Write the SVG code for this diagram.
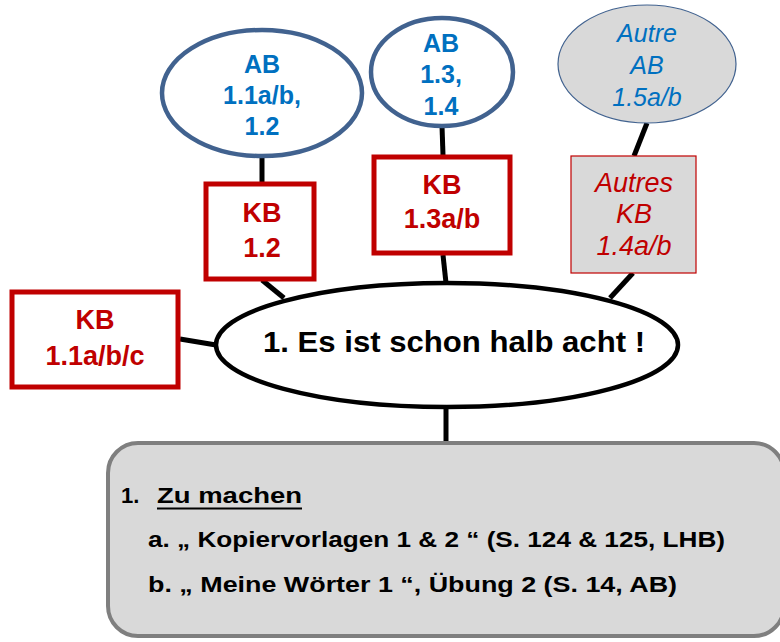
<svg xmlns="http://www.w3.org/2000/svg" width="780" height="642" viewBox="0 0 780 642">
<style>
text{font-family:"Liberation Sans",Arial,sans-serif;font-weight:bold;text-anchor:middle}
.ab{fill:#0070c0;font-size:25px}
.kb{fill:#c00000;font-size:27px}
.it{font-weight:normal;font-style:italic}
.abe{fill:#fff;stroke:#41628f;stroke-width:4.5}
.kbr{fill:#fff;stroke:#c00000;stroke-width:5}
.con{stroke:#000;stroke-width:5;fill:none}
.bt{fill:#000;font-size:22px;text-anchor:start}
</style>
<rect width="780" height="642" fill="#fff"/>
<g id="connectors">
<line class="con" x1="262" y1="156" x2="262" y2="183"/>
<line class="con" x1="442" y1="126" x2="443" y2="155"/>
<line class="con" x1="647" y1="123" x2="634" y2="156"/>
<line class="con" x1="262" y1="280" x2="284" y2="298"/>
<line class="con" x1="443" y1="255" x2="446" y2="283"/>
<line class="con" x1="633" y1="273" x2="610" y2="298"/>
<line class="con" x1="180" y1="339" x2="216" y2="345"/>
<line class="con" x1="446" y1="407" x2="446" y2="442"/>
</g>
<g id="ab1">
<ellipse class="abe" cx="262" cy="93" rx="100" ry="63"/>
<text class="ab" x="262" y="73">AB</text>
<text class="ab" x="262" y="104">1.1a/b,</text>
<text class="ab" x="262" y="135">1.2</text>
</g>
<g id="ab2">
<ellipse class="abe" cx="442" cy="72" rx="71" ry="54"/>
<text class="ab" x="441" y="52">AB</text>
<text class="ab" x="441" y="83">1.3,</text>
<text class="ab" x="441" y="115">1.4</text>
</g>
<g id="ab3">
<ellipse cx="647" cy="64" rx="89" ry="59" fill="#d9d9d9" stroke="#41628f" stroke-width="1.2"/>
<text class="ab it" x="647" y="42">Autre</text>
<text class="ab it" x="647" y="74">AB</text>
<text class="ab it" x="647" y="106">1.5a/b</text>
</g>
<g id="kb12">
<rect class="kbr" x="206" y="184" width="108" height="95"/>
<text class="kb" x="262" y="222">KB</text>
<text class="kb" x="262" y="257">1.2</text>
</g>
<g id="kb13">
<rect class="kbr" x="374" y="157" width="136" height="96"/>
<text class="kb" x="442" y="194">KB</text>
<text class="kb" x="442" y="228">1.3a/b</text>
</g>
<g id="kb14">
<rect x="571" y="156" width="125" height="117" fill="#d9d9d9" stroke="#c00000" stroke-width="1.2"/>
<text class="kb it" x="634" y="192">Autres</text>
<text class="kb it" x="634" y="223">KB</text>
<text class="kb it" x="634" y="255">1.4a/b</text>
</g>
<g id="kb11">
<rect class="kbr" x="12" y="292" width="166" height="95"/>
<text class="kb" x="95" y="329">KB</text>
<text class="kb" x="95" y="365">1.1a/b/c</text>
</g>
<g id="main">
<ellipse cx="447" cy="345" rx="231" ry="62" fill="#fff" stroke="#000" stroke-width="4.5"/>
<text x="454" y="352" font-size="30" fill="#000" textLength="382" lengthAdjust="spacingAndGlyphs">1. Es ist schon halb acht !</text>
</g>
<g id="todo">
<rect x="108" y="443" width="676" height="193" rx="30" ry="30" fill="#d9d9d9" stroke="#7f7f7f" stroke-width="4"/>
<text class="bt" x="121" y="503">1.</text>
<text class="bt" x="157" y="503" textLength="145" lengthAdjust="spacingAndGlyphs">Zu machen</text>
<line x1="157" y1="508.5" x2="302" y2="508.5" stroke="#000" stroke-width="2"/>
<text class="bt" x="148" y="547" textLength="577" lengthAdjust="spacingAndGlyphs">a. „ Kopiervorlagen 1 &amp; 2 “ (S. 124 &amp; 125, LHB)</text>
<text class="bt" x="148" y="592" textLength="529" lengthAdjust="spacingAndGlyphs">b. „ Meine Wörter 1 “,  Übung 2 (S. 14, AB)</text>
</g>
</svg>
